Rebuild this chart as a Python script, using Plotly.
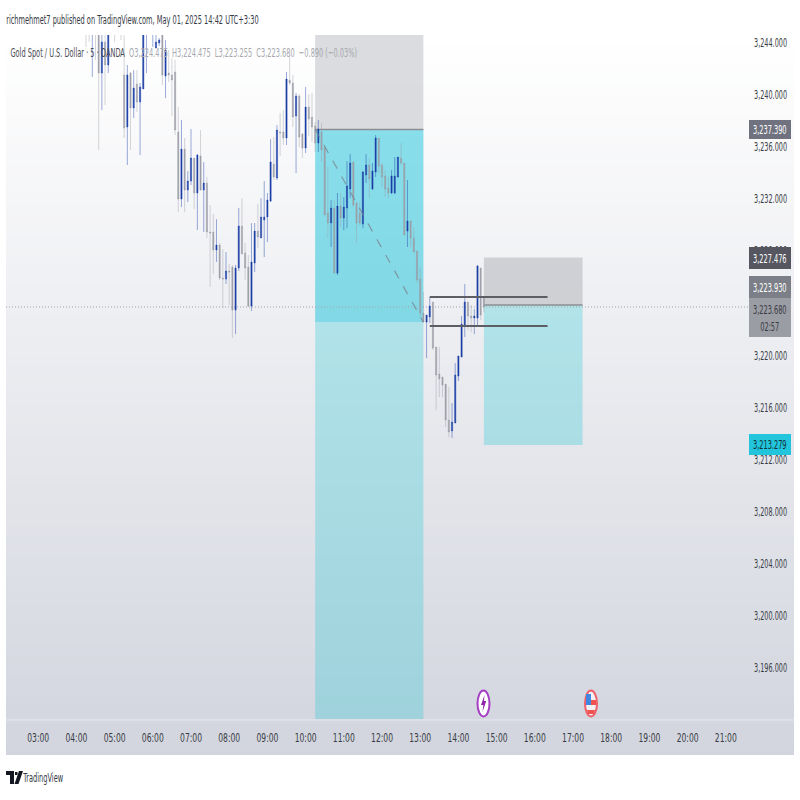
import pandas as pd
import plotly.graph_objects as go

FIRST_BAR = "2025-05-01 04:15"
open_ = [3247.0,3246.5,3245.5,3247.0,3246.0,3241.62,3244.0,3242.24,3247.0,3246.0,3245.5,3246.0,3241.47,3237.48,3241.62,3238.94,3240.78,3239.40,3240.40,3245.0,3247.0,3245.0,3243.54,3243.92,3245.0,3241.39,3241.62,3241.47,3241.70,3237.10,
 3231.96,3235.79,3232.65,3233.34,3235.10,3232.42,3235.26,3232.65,3233.19,3229.43,3229.43,3228.05,3228.43,3225.90,3225.82,3226.44,3226.74,3223.44,3226.67,3229.89,3227.82,3226.74,3223.75,3227.05,3229.50,3228.97,3230.35,3230.58,3231.80,3234.64,
 3233.57,3237.10,3237.10,3236.64,3241.09,3240.86,3238.32,3239.86,3236.94,3235.87,3239.01,3238.25,3237.56,3236.25,3237.10,3235.87,3230.88,3230.12,3231.27,3226.28,3231.42,3230.50,3231.27,3232.73,3234.80,3231.65,3230.88,3230.04,3233.80,3234.57,
 3232.73,3234.03,3236.64,3234.57,3233.72,3232.80,3232.42,3232.42,3233.65,3235.10,3234.72,3229.50,3230.27,3228.97,3227.97,3225.82,3223.21,3222.52,3222.91,3224.06,3220.61,3218.54,3218.31,3217.77,3215.01,3214.17,3214.78,3218.38,3219.84,3222.29,
 3224.06,3222.98,3222.83,3222.83,3226.67,3224.475]
high = [3248.0,3247.0,3247.0,3247.5,3246.5,3246.0,3245.0,3245.5,3248.0,3247.0,3247.0,3246.5,3245.0,3242.24,3241.70,3241.85,3241.85,3240.86,3246.5,3247.0,3248.0,3247.0,3245.0,3244.31,3245.5,3244.15,3243.39,3242.77,3242.62,3239.01,
 3238.02,3236.64,3234.11,3237.33,3235.10,3235.41,3237.25,3234.80,3233.65,3231.50,3230.81,3230.42,3228.58,3228.12,3227.89,3226.97,3226.90,3226.90,3231.27,3232.03,3228.58,3227.66,3230.12,3230.12,3231.57,3232.03,3233.34,3232.42,3236.56,3236.71,
 3237.63,3238.55,3238.78,3241.70,3243.00,3241.47,3240.09,3240.01,3237.02,3240.55,3240.01,3240.09,3237.86,3238.02,3237.79,3235.95,3234.41,3231.88,3231.88,3232.42,3232.42,3232.11,3234.87,3235.41,3234.80,3231.73,3231.73,3234.11,3235.41,3235.10,
 3234.72,3236.87,3236.64,3234.72,3234.18,3233.65,3234.18,3235.18,3235.18,3236.25,3234.72,3233.42,3230.35,3229.81,3227.97,3226.67,3224.83,3223.06,3224.44,3224.06,3220.61,3220.61,3218.31,3217.77,3217.54,3216.31,3219.38,3219.92,3222.98,3225.44,
 3224.06,3223.83,3223.52,3226.90,3226.67,3224.475]
low = [3243.62,3244.0,3241.32,3242.62,3235.72,3238.78,3239.17,3241.62,3245.0,3244.0,3245.0,3244.15,3236.64,3234.57,3235.72,3238.17,3238.63,3235.33,3240.40,3241.62,3245.5,3243.62,3243.54,3243.69,3240.70,3239.70,3240.93,3238.32,3236.87,3230.96,
 3231.34,3230.96,3231.73,3233.03,3231.19,3229.58,3232.60,3229.43,3228.97,3225.21,3226.21,3227.13,3225.75,3223.60,3225.44,3223.83,3221.30,3221.60,3226.44,3227.74,3225.75,3223.67,3223.37,3226.36,3228.20,3228.97,3227.51,3228.66,3231.73,3233.42,
 3233.42,3235.26,3236.10,3236.10,3240.70,3237.48,3233.95,3235.95,3235.10,3235.49,3236.79,3236.33,3235.56,3235.56,3234.80,3230.73,3228.97,3228.28,3226.28,3226.13,3229.81,3229.58,3229.73,3232.03,3231.34,3228.58,3229.96,3229.73,3233.19,3232.03,
 3232.65,3233.65,3233.95,3232.88,3232.11,3232.03,3232.34,3232.34,3233.57,3234.57,3229.20,3228.28,3228.28,3227.89,3225.52,3222.83,3222.52,3219.76,3222.45,3220.38,3215.77,3216.77,3216.77,3214.47,3213.70,3213.63,3214.78,3218.00,3219.84,3221.37,
 3221.91,3221.76,3221.60,3222.29,3222.68,3223.255]
close = [3245.0,3245.0,3246.5,3245.5,3241.62,3244.0,3242.24,3245.0,3246.0,3245.0,3246.5,3245.0,3237.40,3241.47,3238.94,3240.47,3239.40,3240.55,3245.5,3246.0,3246.0,3246.0,3244.0,3244.15,3241.47,3243.39,3241.47,3241.09,3237.25,3231.96,
 3235.79,3232.65,3233.34,3235.10,3232.42,3235.33,3232.65,3233.19,3229.43,3229.35,3228.05,3228.43,3225.90,3225.82,3226.44,3226.36,3223.44,3226.67,3229.89,3227.74,3226.67,3223.75,3227.13,3229.50,3229.04,3230.58,3230.58,3231.88,3234.80,3233.65,
 3237.25,3237.02,3236.64,3241.16,3240.86,3238.25,3239.86,3236.71,3235.87,3239.01,3238.09,3237.48,3236.25,3237.33,3235.72,3230.73,3230.12,3231.27,3226.28,3231.42,3230.50,3231.34,3232.96,3234.72,3231.50,3230.12,3230.12,3234.03,3234.57,3233.49,
 3234.11,3236.64,3234.49,3233.65,3232.73,3232.42,3233.72,3233.72,3235.18,3234.72,3229.20,3230.27,3228.97,3227.89,3225.75,3223.21,3222.52,3223.06,3223.75,3220.53,3218.46,3218.15,3217.69,3215.01,3214.09,3214.85,3218.46,3219.92,3222.37,3224.06,
 3222.98,3222.83,3222.98,3226.82,3223.06,3223.68]

TICK_PRICES = [3196,3200,3204,3208,3212,3216,3220,3224,3228,3232,3236,3240,3244]
HOUR_LABELS = [f"{h:02d}:00" for h in range(3, 22)]
Y_RANGE = [3192.08, 3244.54]
X_RANGE = ["2025-05-01 02:09:25", "2025-05-01 21:38:00"]

# Short position 1
P1_START, P1_END = "2025-05-01 10:15", "2025-05-01 13:05"
P1_ENTRY, P1_TARGET = 3237.3, 3222.52
# Short position 2
P2_START, P2_END = "2025-05-01 14:40", "2025-05-01 17:15"
P2_STOP, P2_ENTRY, P2_TARGET = 3227.476, 3223.83, 3213.1
# Two horizontal rays
RAY_START, RAY_END = "2025-05-01 13:15", "2025-05-01 16:20"
RAY_UP, RAY_DOWN = 3224.44, 3222.22
LAST_PRICE = 3223.68

FONT = "DejaVu Sans Condensed, DejaVu Sans, sans-serif"
px_x = lambda x: (x - 6) / 744
px_y = lambda y: (719 - y) / 684

times = pd.date_range(FIRST_BAR, periods=len(open_), freq="5min")
fig = go.Figure(go.Candlestick(
    x=times, open=open_, high=high, low=low, close=close,
    increasing=dict(line=dict(color="rgba(28,62,168,0.55)", width=0.8), fillcolor="#1a3fa6"),
    decreasing=dict(line=dict(color="rgba(150,152,162,0.5)", width=0.8), fillcolor="#a0a2aa"),
    whiskerwidth=0, hoverinfo="skip", showlegend=False))

shapes = []
# vertical background gradient of the chart frame
top, bot, n = 35, 755, 72
c0, c1 = (255, 255, 255), (210, 213, 222)
for i in range(n):
    f = i / (n - 1)
    col = "rgb(%d,%d,%d)" % tuple(round(a + (b - a) * f) for a, b in zip(c0, c1))
    y0 = top + (bot - top) * i / n
    y1 = top + (bot - top) * (i + 1) / n
    shapes.append(dict(type="rect", xref="paper", yref="paper", layer="below",
                       x0=px_x(6), x1=px_x(794), y0=px_y(y0), y1=px_y(min(y1 + 0.5, bot)),
                       fillcolor=col, line_width=0))
shapes.append(dict(type="line", xref="paper", yref="paper", layer="below", x0=px_x(6), x1=px_x(794),
                   y0=px_y(720), y1=px_y(720), line=dict(color="#e6e8ed", width=1)))

def rect(x0, x1, y0, y1, fill):
    return dict(type="rect", xref="x", yref="y", layer="below", x0=x0, x1=x1, y0=y0, y1=y1,
                fillcolor=fill, line_width=0)

def hline(x0, x1, y, color, width, dash="solid", layer="below"):
    return dict(type="line", xref="x", yref="y", layer=layer, x0=x0, x1=x1, y0=y, y1=y,
                line=dict(color=color, width=width, dash=dash))

PALE = "rgba(37,200,213,0.30)"
DEEP = "rgba(24,194,218,0.50)"
shapes += [
    rect(P1_START, P1_END, P1_ENTRY, Y_RANGE[1], "rgba(205,206,210,0.72)"),
    rect(P1_START, P1_END, P1_TARGET, P1_ENTRY, DEEP),
    rect(P1_START, P1_END, Y_RANGE[0], P1_TARGET, PALE),
    hline(P1_START, P1_END, P1_ENTRY, "#8c8e94", 1.5),
    rect(P2_START, P2_END, P2_ENTRY, P2_STOP, "rgba(185,186,192,0.6)"),
    rect(P2_START, P2_END, P2_TARGET, P2_ENTRY, PALE),
    hline(P2_START, P2_END, P2_ENTRY, "#8c8e94", 1.5),
    hline(X_RANGE[0], X_RANGE[1], LAST_PRICE, "#a4a6ac", 1, "1px,2px"),
    dict(type="line", xref="x", yref="y", layer="above", x0=P1_START, x1=P1_END, y0=P1_ENTRY, y1=P1_TARGET,
         line=dict(color="rgba(120,130,140,0.75)", width=1.2, dash="dash")),
    hline(RAY_START, RAY_END, RAY_UP, "#5c5e64", 2, layer="above"),
    hline(RAY_START, RAY_END, RAY_DOWN, "#5c5e64", 2, layer="above"),
]

def ellipse(cx, cy, rx, ry, line, fill="white"):
    return dict(type="circle", xref="paper", yref="paper", x0=px_x(cx - rx), x1=px_x(cx + rx),
                y0=px_y(cy + ry), y1=px_y(cy - ry), fillcolor=fill, line=dict(color=line, width=2))

def poly(points, fill):
    d = "M " + " L ".join(f"{px_x(x):.5f},{px_y(y):.5f}" for x, y in points) + " Z"
    return dict(type="path", xref="paper", yref="paper", path=d, fillcolor=fill, line_width=0)

shapes += [
    ellipse(483.5, 703.5, 6, 13, "#a63fc4"),
    poly([(484.5, 695), (481, 705), (483.3, 705), (482.5, 712), (486.2, 701), (484, 701)], "#8e24aa"),
    ellipse(591, 703.5, 6, 13, "#f0606a", "#f0f0f5"),
    poly([(586, 700), (596, 700), (596, 705), (586, 705)], "#ef5350"),
    poly([(586, 694), (591, 694), (591, 705), (586, 705)], "#3f87e0"),
    poly([(587, 710), (595, 710), (594, 714), (588, 714)], "#ef5350"),
    # TradingView mark
    poly([(6, 771), (14, 771), (14, 784), (10, 784), (10, 775), (6, 775)], "#131722"),
    poly([(15, 772), (17.5, 772), (17.5, 775), (15, 775)], "#131722"),
    poly([(19, 771), (23, 771), (18.5, 784), (14.5, 784)], "#131722"),
]

annotations = []
def tag(y0, y1, text, bg, fg):
    shapes.append(dict(type="rect", xref="paper", yref="paper", layer="above",
                       x0=px_x(749), x1=px_x(791), y0=px_y(y1), y1=px_y(y0), fillcolor=bg, line_width=0))
    annotations.append(dict(xref="paper", yref="paper", x=px_x(770), y=px_y((y0 + y1) / 2), text=text,
                            showarrow=False, xanchor="center", yanchor="middle", align="center",
                            font=dict(family=FONT, size=13, color=fg)))

grey = "#a6a8ae"
legend_text = ("Gold Spot / U.S. Dollar · 5 · OANDA  "
               f"<span style='color:{grey}'>O3,224.475  H3,224.475  L3,223.255  C3,223.680  −0.890 (−0.03%)</span>")

annotations += [
    dict(xref="paper", yref="paper", x=px_x(132), y=px_y(19), text="richmehmet7 published on TradingView.com, May 01, 2025 14:42 UTC+3:30",
         showarrow=False, xanchor="center", yanchor="middle", font=dict(family=FONT, size=13, color="#363a45")),
    dict(xref="paper", yref="paper", x=px_x(183.5), y=px_y(53), text=legend_text,
         showarrow=False, xanchor="center", yanchor="middle", font=dict(family=FONT, size=13, color="#4a4d55")),
    dict(xref="paper", yref="paper", x=px_x(42.5), y=px_y(777), text="TradingView",
         showarrow=False, xanchor="center", yanchor="middle", font=dict(family=FONT, size=13, color="#363a45")),
]
tag(120, 139, "3,237.390", "#70737f", "white")
tag(247, 269, "3,227.476", "#55565f", "white")
tag(276, 298, "3,223.930", "#7c7f87", "white")
tag(298, 337, "3,223.680<br>02:57", "#9b9da4", "#3a3c44")
tag(434, 455, "3,213.279", "#22c5dc", "#10303a")

fig.update_layout(
    width=800, height=800, autosize=False,
    paper_bgcolor="white", plot_bgcolor="rgba(0,0,0,0)",
    margin=dict(l=6, r=50, t=35, b=81, autoexpand=False),
    showlegend=False, shapes=shapes, annotations=annotations,
    font=dict(family=FONT, color="#3a3d46", size=13),
    boxgap=0.45,
    xaxis=dict(type="date", range=X_RANGE, rangeslider=dict(visible=False), showgrid=False, zeroline=False,
               tickmode="array", tickvals=[f"2025-05-01 {l}" for l in HOUR_LABELS], ticktext=HOUR_LABELS,
               ticks="", ticklabelstandoff=9, showline=False),
    yaxis=dict(side="right", range=Y_RANGE, showgrid=False, zeroline=False, tickmode="array",
               tickvals=TICK_PRICES, ticktext=[f"{p:,.3f}" for p in TICK_PRICES],
               ticks="", ticklabelstandoff=3, showline=False),
)

# The reference is a horizontally squeezed screenshot: narrow every real text element to match.
POST = """
document.body.style.margin = '0';
function squeeze(sel, k) {
  document.querySelectorAll(sel).forEach(function (t) {
    var w = t.getComputedTextLength();
    if (w > 0) { t.setAttribute('textLength', w * k); t.setAttribute('lengthAdjust', 'spacingAndGlyphs'); }
  });
}
squeeze('.ytick text', 0.555);
squeeze('.xtick text', 0.65);
squeeze('.annotation-text', 0.565);
"""
fig.write_html("out.html", config=dict(displayModeBar=False), post_script=POST)
